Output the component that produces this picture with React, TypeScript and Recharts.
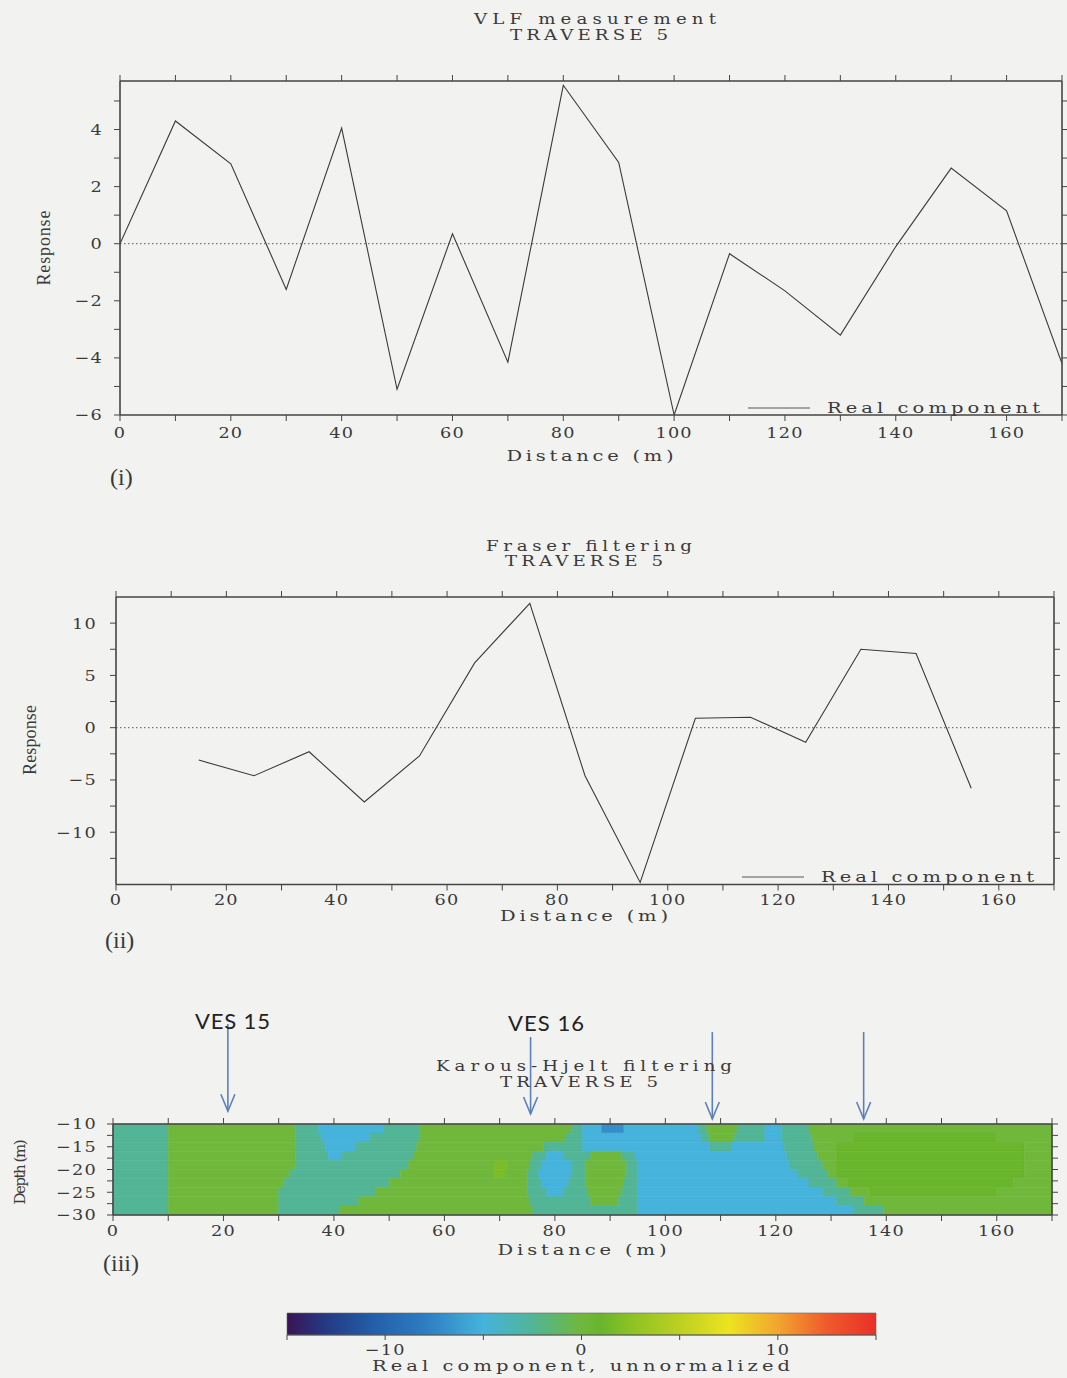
import React from 'react';
import { ComposedChart, Line, XAxis, YAxis, ReferenceLine, ReferenceArea, Legend } from 'recharts';

// ---------- data ----------
const distanceVlf = [0, 10, 20, 30, 40, 50, 60, 70, 80, 90, 100, 110, 120, 130, 140, 150, 160, 170];
const realVlf = [0.0, 4.3, 2.8, -1.6, 4.05, -5.1, 0.35, -4.15, 5.55, 2.85, -6.0, -0.35, -1.65, -3.2, -0.1, 2.65, 1.15, -4.2];

const distanceFraser = [15, 25, 35, 45, 55, 65, 75, 85, 95, 105, 115, 125, 135, 145, 155];
const realFraser = [-3.1, -4.6, -2.3, -7.1, -2.7, 6.2, 11.9, -4.6, -14.8, 0.9, 1.0, -1.4, 7.5, 7.1, -5.8];

const distanceTicks = [0, 10, 20, 30, 40, 50, 60, 70, 80, 90, 100, 110, 120, 130, 140, 150, 160, 170];
const vlfYTicks = [-6, -5, -4, -3, -2, -1, 0, 1, 2, 3, 4, 5];
const fraserYTicks = [-12.5, -10, -7.5, -5, -2.5, 0, 2.5, 5, 7.5, 10];
const depthTicks = [-30, -27.5, -25, -22.5, -20, -17.5, -15, -12.5, -10];
const colorbarTicks = [-15, -10, -5, 0, 5, 10, 15];

const vesPositions = [20.8, 75.6, 108.5, 135.9];
const vesArrowTop = [12.0, 9.1, 10.2, 10.2];
const vesArrowTip = [-7.2, -7.8, -8.9, -8.9];

// Karous-Hjelt section: depth rows (top, bottom) and segments [x1, x2, value]
const depthRowTop = [-10, -12, -14, -16, -18, -20, -22, -24, -26, -28];
const depthRowBottom = [-12, -14, -16, -18, -20, -22, -24, -26, -28, -30];
const khRow0 = [[0, 10, -2.5], [10, 33, 0], [33, 37.2, -2.5], [37.2, 49, -5], [49, 55.5, -2.5], [55.5, 83, 0], [83, 85, -2.5], [85, 88.5, -5], [88.5, 92.5, -7], [92.5, 106, -5], [106, 107.5, -2.5], [107.5, 113, 0], [113, 118, -2.5], [118, 121, -5], [121, 126, -2.5], [126, 170, 0]];
const khRow1 = [[0, 10, -2.5], [10, 33, 0], [33, 37.8, -2.5], [37.8, 46.5, -5], [46.5, 55.5, -2.5], [55.5, 82, 0], [82, 85, -2.5], [85, 106.5, -5], [106.5, 108, -2.5], [108, 112.5, 0], [112.5, 118, -2.5], [118, 121, -5], [121, 126.5, -2.5], [126.5, 134, 0], [134, 160, 1], [160, 170, 0]];
const khRow2 = [[0, 10, -2.5], [10, 33, 0], [33, 38.4, -2.5], [38.4, 44, -5], [44, 55, -2.5], [55, 78, 0], [78, 85, -2.5], [85, 108, -5], [108, 112, -2.5], [112, 121.5, -5], [121.5, 127, -2.5], [127, 131, 0], [131, 165, 1], [165, 170, 0]];
const khRow3 = [[0, 10, -2.5], [10, 33, 0], [33, 39, -2.5], [39, 41.5, -5], [41.5, 54.5, -2.5], [54.5, 76, 0], [76, 78.5, -2.5], [78.5, 81.5, -5], [81.5, 86.5, -2.5], [86.5, 92, 0], [92, 94.5, -2.5], [94.5, 122, -5], [122, 127.5, -2.5], [127.5, 131, 0], [131, 165, 1], [165, 170, 0]];
const khRow4 = [[0, 10, -2.5], [10, 33, 0], [33, 53.5, -2.5], [53.5, 69, 0], [69, 71.5, 1.8], [71.5, 75.5, 0], [75.5, 77.5, -2.5], [77.5, 83, -5], [83, 85.5, -2.5], [85.5, 93, 0], [93, 95, -2.5], [95, 122.5, -5], [122.5, 128.5, -2.5], [128.5, 131, 0], [131, 165, 1], [165, 170, 0]];
const khRow5 = [[0, 10, -2.5], [10, 32, 0], [32, 52, -2.5], [52, 69, 0], [69, 71, 1.8], [71, 75, 0], [75, 77, -2.5], [77, 83, -5], [83, 85.5, -2.5], [85.5, 93, 0], [93, 95, -2.5], [95, 124, -5], [124, 129.5, -2.5], [129.5, 131, 0], [131, 165, 1], [165, 170, 0]];
const khRow6 = [[0, 10, -2.5], [10, 31, 0], [31, 50, -2.5], [50, 75, 0], [75, 77.5, -2.5], [77.5, 82.5, -5], [82.5, 85.5, -2.5], [85.5, 92.5, 0], [92.5, 95, -2.5], [95, 126, -5], [126, 131, -2.5], [131, 133, 0], [133, 163, 1], [163, 170, 0]];
const khRow7 = [[0, 10, -2.5], [10, 30, 0], [30, 47.5, -2.5], [47.5, 75, 0], [75, 78.5, -2.5], [78.5, 81.5, -5], [81.5, 86, -2.5], [86, 92, 0], [92, 95, -2.5], [95, 128.5, -5], [128.5, 133.5, -2.5], [133.5, 137, 0], [137, 160, 1], [160, 170, 0]];
const khRow8 = [[0, 10, -2.5], [10, 30, 0], [30, 44.5, -2.5], [44.5, 75.5, 0], [75.5, 86.5, -2.5], [86.5, 91.5, 0], [91.5, 95, -2.5], [95, 131, -5], [131, 136, -2.5], [136, 170, 0]];
const khRow9 = [[0, 10, -2.5], [10, 30, 0], [30, 41, -2.5], [41, 76, 0], [76, 95, -2.5], [95, 134, -5], [134, 139.5, -2.5], [139.5, 170, 0]];
const khRows = [khRow0, khRow1, khRow2, khRow3, khRow4, khRow5, khRow6, khRow7, khRow8, khRow9];

// colour scale (value -> colour)
const colorStopValues = [-15, -13, -10.5, -8, -5, -2.5, 0, 1, 2.5, 5, 7.5, 10, 12.5, 15];
const colorStopColors = ['#3a1455', '#233a86', '#2460aa', '#2d7cc2', '#45b3dc', '#52b596', '#70b83c', '#69b52c', '#8cc224', '#bcd022', '#ece41f', '#f2a530', '#ef5a2c', '#ea3028'];

// ---------- helpers ----------
const hexToRgb = (h: string) => [parseInt(h.slice(1, 3), 16), parseInt(h.slice(3, 5), 16), parseInt(h.slice(5, 7), 16)];
const colorFor = (v: number) => {
  if (v <= colorStopValues[0]) return colorStopColors[0];
  for (let i = 1; i < colorStopValues.length; i++) {
    if (v <= colorStopValues[i]) {
      const t = (v - colorStopValues[i - 1]) / (colorStopValues[i] - colorStopValues[i - 1]);
      const a = hexToRgb(colorStopColors[i - 1]);
      const b = hexToRgb(colorStopColors[i]);
      const c = a.map((x, k) => Math.round(x + (b[k] - x) * t));
      return `rgb(${c[0]},${c[1]},${c[2]})`;
    }
  }
  return colorStopColors[colorStopColors.length - 1];
};

const fmt = (v: number) => (v < 0 ? '\u2212' + Math.abs(v) : String(v));
const INK = '#3a3a3a';
const AX = '#454545';
const axisLine = { stroke: AX, strokeWidth: 1.6 };
const tickLine = { stroke: AX, strokeWidth: 1 };
const SERIF = "'DejaVu Serif', 'Liberation Serif', serif";

const vlfData = distanceVlf.map((d, i) => ({ d, v: realVlf[i] }));
const fraserData = distanceFraser.map((d, i) => ({ d, v: realFraser[i] }));

const khCells = khRows.flatMap((row, r) =>
  row.map((seg, k) => ({
    key: `${r}-${k}`,
    x1: seg[0],
    x2: seg[1],
    y1: depthRowBottom[r],
    y2: depthRowTop[r],
    d: (seg[0] + seg[1]) / 2,
    v: (depthRowBottom[r] + depthRowTop[r]) / 2,
    fill: colorFor(seg[2]),
  }))
);
const colorbarData = colorStopValues.map((d) => ({ d, v: 0.5 }));

const xFmt = (v: number) => (v % 20 === 0 && v <= 160 ? fmt(v) : '');
const y2Fmt = (v: number) => (v % 2 === 0 ? fmt(v) : '');
const y5Fmt = (v: number) => (v % 5 === 0 ? fmt(v) : '');
const cbFmt = (v: number) => (v % 10 === 0 ? fmt(v) : '');

const SX = 1.18;
const makeTick = (fmtFn: (v: number) => string, side: 'left' | 'bottom') => (props: any) => {
  const { x, y, payload, textAnchor } = props;
  const label = fmtFn(payload.value);
  if (!label) return <g />;
  const dy = side === 'left' ? '0.36em' : '0.74em';
  return (
    <text
      x={x}
      y={y}
      dy={dy}
      textAnchor={textAnchor}
      fontFamily={SERIF}
      fontSize={15}
      fill={INK}
      letterSpacing={1}
      transform={`translate(${x} ${y}) scale(${SX} 1) translate(${-x} ${-y})`}
    >
      {label}
    </text>
  );
};
const noLabel = () => <g />;

type TProps = { x: number; y: number; len?: number; size?: number; family?: string; anchor?: string; rotate?: boolean; sx?: number; children: React.ReactNode; fill?: string };
const T = ({ x, y, len, size = 15, family = SERIF, anchor = 'middle', rotate = false, sx = 1, children, fill = INK }: TProps) => {
  const transform = rotate
    ? `rotate(-90 ${x} ${y})`
    : sx !== 1
    ? `translate(${x} ${y}) scale(${sx} 1) translate(${-x} ${-y})`
    : undefined;
  return (
    <text
      x={x}
      y={y}
      fontSize={size}
      fontFamily={family}
      fill={fill}
      textAnchor={anchor as any}
      dominantBaseline={rotate ? 'central' : undefined}
      transform={transform}
      textLength={len ? len / sx : undefined}
      lengthAdjust={len ? 'spacing' : undefined}
    >
      {children}
    </text>
  );
};

const LegendBox = () => (
  <svg width={300} height={22} style={{ display: 'block' }}>
    <line x1={3} y1={11} x2={65} y2={11} stroke="#555" strokeWidth={1} />
    <T x={82} y={16} len={213} anchor="start" sx={1.3}>Real component</T>
  </svg>
);

const Arrow = (p: any) => {
  const { x1, y1, x2, y2 } = p;
  if (x1 == null || y2 == null) return <g />;
  return (
    <g>
      <line x1={x1} y1={y1} x2={x2} y2={y2} stroke="#5d80b8" strokeWidth={1.6} />
      <polyline points={`${x2 - 7},${y2 - 17} ${x2},${y2} ${x2 + 7},${y2 - 17}`} fill="none" stroke="#5d80b8" strokeWidth={1.6} />
    </g>
  );
};

export default function App() {
  return (
    <div style={{ position: 'absolute', left: 0, top: 0, width: 1067, height: 1378, background: '#f2f2f0', overflow: 'hidden' }}>
      {/* (i) VLF measurement */}
      <div style={{ position: 'absolute', left: 0, top: 0 }}>
        <ComposedChart width={1067} height={480} data={vlfData} margin={{ top: 80, right: 4, bottom: 35, left: 0 }}>
          <ReferenceLine y={0} stroke="#777" strokeDasharray="1.5 2.5" strokeWidth={1.2} />
          <Line dataKey="v" type="linear" stroke="#3a3a3a" strokeWidth={1.1} dot={false} isAnimationActive={false} />
          <XAxis dataKey="d" type="number" domain={[0, 170]} ticks={distanceTicks} interval={0} tick={makeTick(xFmt, 'bottom')} tickSize={6} tickMargin={6} axisLine={axisLine} tickLine={tickLine} height={30} allowDataOverflow />
          <XAxis xAxisId="top" dataKey="d" orientation="top" type="number" domain={[0, 170]} ticks={distanceTicks} interval={0} tick={noLabel} tickSize={6} height={1} axisLine={axisLine} tickLine={tickLine} allowDataOverflow />
          <YAxis dataKey="v" type="number" domain={[-6, 5.7]} ticks={vlfYTicks} interval={0} tick={makeTick(y2Fmt, 'left')} width={120} tickSize={6} tickMargin={11} axisLine={axisLine} tickLine={tickLine} allowDataOverflow />
          <YAxis yAxisId="r" dataKey="v" orientation="right" type="number" domain={[-6, 5.7]} ticks={vlfYTicks} interval={0} tick={noLabel} width={1} tickSize={6} axisLine={axisLine} tickLine={tickLine} allowDataOverflow />
          <Legend layout="horizontal" verticalAlign="middle" align="center" wrapperStyle={{ position: 'absolute', left: 745, top: 397, width: 300, height: 22 }} content={() => <LegendBox />} />
        </ComposedChart>
      </div>

      {/* (ii) Fraser filtering */}
      <div style={{ position: 'absolute', left: 0, top: 500 }}>
        <ComposedChart width={1067} height={440} data={fraserData} margin={{ top: 96, right: 12, bottom: 25.5, left: 0 }}>
          <ReferenceLine y={0} stroke="#777" strokeDasharray="1.5 2.5" strokeWidth={1.2} />
          <Line dataKey="v" type="linear" stroke="#3a3a3a" strokeWidth={1.1} dot={false} isAnimationActive={false} />
          <XAxis dataKey="d" type="number" domain={[0, 170]} ticks={distanceTicks} interval={0} tick={makeTick(xFmt, 'bottom')} tickSize={6} tickMargin={3} axisLine={axisLine} tickLine={tickLine} height={30} allowDataOverflow />
          <XAxis xAxisId="top" dataKey="d" orientation="top" type="number" domain={[0, 170]} ticks={distanceTicks} interval={0} tick={noLabel} tickSize={6} height={1} axisLine={axisLine} tickLine={tickLine} allowDataOverflow />
          <YAxis dataKey="v" type="number" domain={[-15, 12.5]} ticks={fraserYTicks} interval={0} tick={makeTick(y5Fmt, 'left')} width={116} tickSize={6} tickMargin={13} axisLine={axisLine} tickLine={tickLine} allowDataOverflow />
          <YAxis yAxisId="r" dataKey="v" orientation="right" type="number" domain={[-15, 12.5]} ticks={fraserYTicks} interval={0} tick={noLabel} width={1} tickSize={6} axisLine={axisLine} tickLine={tickLine} allowDataOverflow />
          <Legend layout="horizontal" verticalAlign="middle" align="center" wrapperStyle={{ position: 'absolute', left: 739, top: 366, width: 300, height: 22 }} content={() => <LegendBox />} />
        </ComposedChart>
      </div>

      {/* (iii) Karous-Hjelt filtering */}
      <div style={{ position: 'absolute', left: 0, top: 990 }}>
        <ComposedChart width={1067} height={300} data={khCells} margin={{ top: 133, right: 14, bottom: 45, left: 0 }}>
          {khCells.map((c) => (
            <ReferenceArea key={c.key} x1={c.x1} x2={c.x2} y1={c.y1} y2={c.y2} fill={c.fill} fillOpacity={1} stroke={c.fill} strokeWidth={0.6} ifOverflow="visible" />
          ))}
          {vesPositions.map((x, i) => (
            <ReferenceLine key={`ves${i}`} segment={[{ x, y: vesArrowTop[i] }, { x, y: vesArrowTip[i] }]} ifOverflow="visible" shape={(p: any) => <Arrow {...p} />} />
          ))}
          <XAxis dataKey="d" type="number" domain={[0, 170]} ticks={distanceTicks} interval={0} tick={makeTick(xFmt, 'bottom')} tickSize={6} tickMargin={4} axisLine={axisLine} tickLine={tickLine} height={30} allowDataOverflow />
          <XAxis xAxisId="top" dataKey="d" orientation="top" type="number" domain={[0, 170]} ticks={distanceTicks} interval={0} tick={noLabel} tickSize={6} height={1} axisLine={axisLine} tickLine={tickLine} allowDataOverflow />
          <YAxis dataKey="v" type="number" domain={[-30, -10]} ticks={depthTicks} interval={0} tick={makeTick(y5Fmt, 'left')} width={113} tickSize={6} tickMargin={10} axisLine={axisLine} tickLine={tickLine} allowDataOverflow />
          <YAxis yAxisId="r" dataKey="v" orientation="right" type="number" domain={[-30, -10]} ticks={depthTicks} interval={0} tick={noLabel} width={1} tickSize={6} axisLine={axisLine} tickLine={tickLine} allowDataOverflow />
        </ComposedChart>
      </div>

      {/* colour bar */}
      <div style={{ position: 'absolute', left: 0, top: 1290 }}>
        <ComposedChart width={1067} height={90} data={colorbarData} margin={{ top: 23, right: 191, bottom: 20, left: 287 }}>
          <defs>
            <linearGradient id="cbarGrad" x1="0" y1="0" x2="1" y2="0">
              {colorStopValues.map((v, i) => (
                <stop key={i} offset={`${((v + 15) / 30) * 100}%`} stopColor={colorStopColors[i]} />
              ))}
            </linearGradient>
          </defs>
          <ReferenceArea x1={-15} x2={15} y1={0} y2={1} fill="url(#cbarGrad)" fillOpacity={1} stroke="#666" strokeWidth={0.6} ifOverflow="visible" />
          <XAxis dataKey="d" type="number" domain={[-15, 15]} ticks={colorbarTicks} interval={0} tick={makeTick(cbFmt, 'bottom')} tickSize={5} tickMargin={4} axisLine={{ stroke: '#555', strokeWidth: 1 }} tickLine={tickLine} height={25} allowDataOverflow />
          <YAxis dataKey="v" hide type="number" domain={[0, 1]} allowDataOverflow />
        </ComposedChart>
      </div>

      {/* texts */}
      <svg width={1067} height={1378} style={{ position: 'absolute', left: 0, top: 0, pointerEvents: 'none' }}>
        <T x={595} y={24} len={242} size={14} sx={1.3}>VLF measurement</T>
        <T x={589} y={40} len={158} size={14} sx={1.3}>TRAVERSE 5</T>
        <T x={44} y={248} len={75} size={18} family="Liberation Serif" rotate>Response</T>
        <T x={590} y={461} len={167} sx={1.3}>Distance (m)</T>
        <T x={110} y={485} size={24} family="Liberation Serif" anchor="start">(i)</T>

        <T x={589} y={551} len={206} size={14} sx={1.3}>Fraser filtering</T>
        <T x={584} y={566} len={158} size={14} sx={1.3}>TRAVERSE 5</T>
        <T x={30} y={740} len={70} size={18} family="Liberation Serif" rotate>Response</T>
        <T x={584} y={921} len={168} sx={1.3}>Distance (m)</T>
        <T x={105} y={948} size={24} family="Liberation Serif" anchor="start">(ii)</T>

        <T x={195} y={1029} len={75} size={22} family="Lato" anchor="start" fill="#222">VES 15</T>
        <T x={508} y={1031} len={76} size={22} family="Lato" anchor="start" fill="#222">VES 16</T>
        <T x={584} y={1071} len={296} size={14} sx={1.3}>Karous-Hjelt filtering</T>
        <T x={579} y={1087} len={158} size={14} sx={1.3}>TRAVERSE 5</T>
        <T x={20} y={1172} len={65} size={15} rotate>Depth (m)</T>
        <T x={582} y={1255} len={169} sx={1.3}>Distance (m)</T>
        <T x={103} y={1271} size={24} family="Liberation Serif" anchor="start">(iii)</T>

        <T x={581} y={1371} len={418} sx={1.3}>Real component, unnormalized</T>
      </svg>
    </div>
  );
}
